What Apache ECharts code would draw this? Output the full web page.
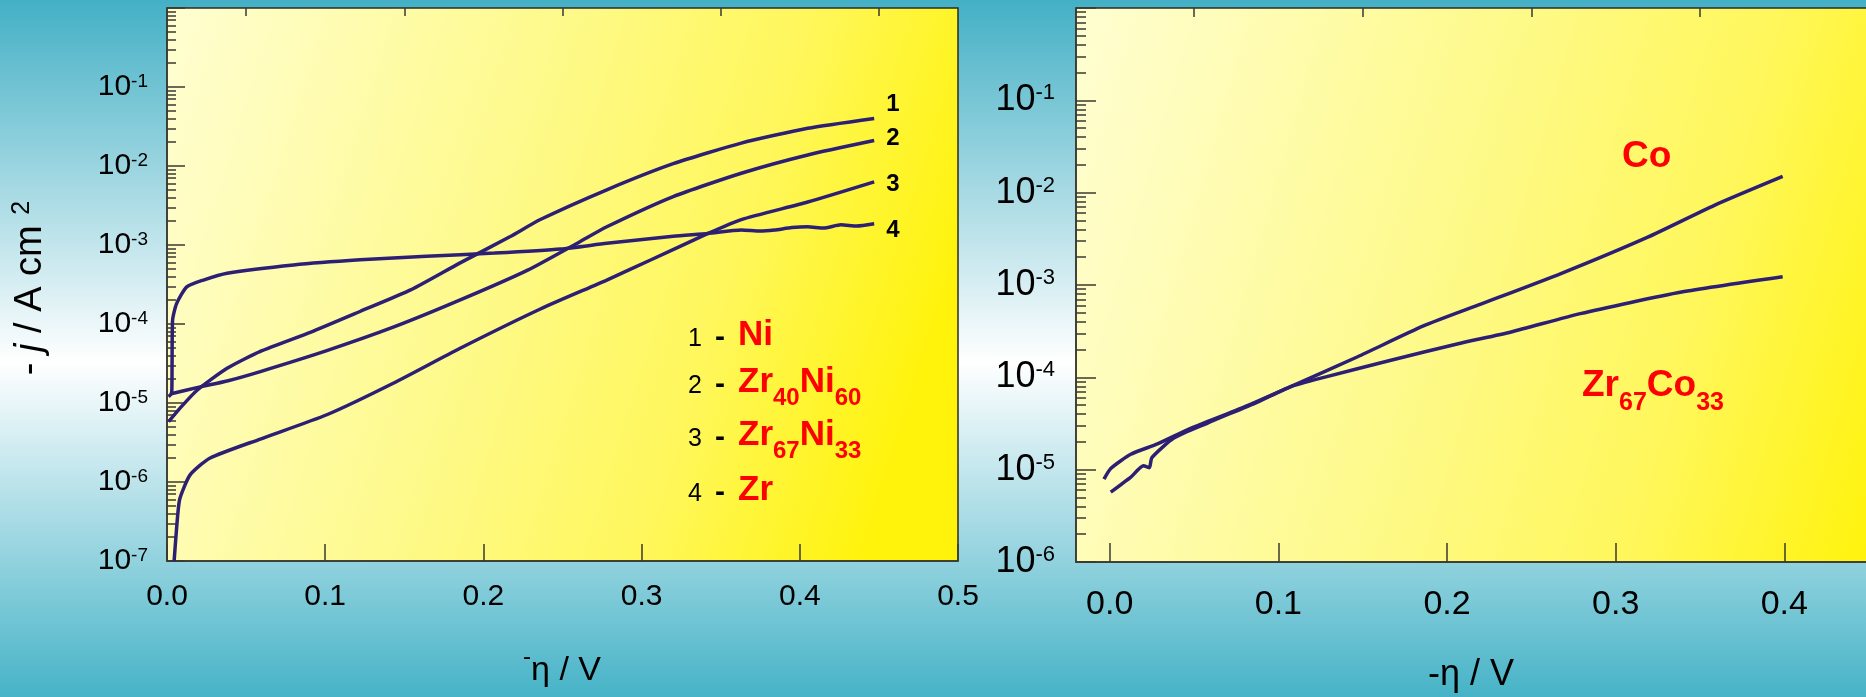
<!DOCTYPE html>
<html>
<head>
<meta charset="utf-8">
<script src="https://cdn.jsdelivr.net/npm/echarts@6/dist/echarts.min.js"></script>
<style>
  html, body { margin: 0; padding: 0; width: 1866px; height: 697px; overflow: hidden; }
  #chart { width: 1866px; height: 697px; }
</style>
</head>
<body>
<div id="chart"></div>
<script>
// Cathodic polarisation curves: -j (A cm^-2) against -eta (V), log scale.

// ---- left panel: Ni / Zr-Ni alloys / Zr  ([-eta, -j]) ----
const ni = [[0.001,5.8e-6],[0.008,8.5e-6],[0.019,1.45e-5],[0.038,2.75e-5],[0.059,4.5e-5],[0.091,7.9e-5],[0.122,1.44e-4],[0.154,2.7e-4],[0.185,5.9e-4],[0.217,1.28e-3],[0.236,2.1e-3],[0.278,5.0e-3],[0.320,1.07e-2],[0.363,1.95e-2],[0.405,3.0e-2],[0.447,4.0e-2]];
const zr40ni60 = [[0.002,1.3e-5],[0.021,1.6e-5],[0.038,1.9e-5],[0.059,2.5e-5],[0.101,4.6e-5],[0.143,9.1e-5],[0.185,2.0e-4],[0.228,4.8e-4],[0.261,1.1e-3],[0.278,1.7e-3],[0.320,4.1e-3],[0.363,8.1e-3],[0.405,1.38e-2],[0.447,2.1e-2]];
const zr67ni33 = [[0.0045,1e-7],[0.006,2.5e-7],[0.008,6e-7],[0.0146,1.23e-6],[0.027,2.0e-6],[0.059,3.5e-6],[0.101,7.1e-6],[0.143,1.78e-5],[0.185,4.9e-5],[0.236,1.55e-4],[0.278,3.6e-4],[0.306,6.5e-4],[0.342,1.4e-3],[0.363,2.1e-3],[0.405,3.5e-3],[0.447,6.3e-3]];
const zr = [[0.001,1.2e-5],[0.003,1.35e-5],[0.0032,3e-5],[0.0035,1.1e-4],[0.006,1.8e-4],[0.0125,2.95e-4],[0.023,3.6e-4],[0.038,4.4e-4],[0.080,5.6e-4],[0.122,6.5e-4],[0.164,7.2e-4],[0.207,7.9e-4],[0.249,8.9e-4],[0.278,1.05e-3],[0.320,1.29e-3],[0.342,1.4e-3],[0.363,1.55e-3],[0.375,1.5e-3],[0.384,1.55e-3],[0.395,1.66e-3],[0.405,1.7e-3],[0.415,1.64e-3],[0.426,1.8e-3],[0.436,1.74e-3],[0.447,1.86e-3]];

// ---- right panel: Co / Zr67Co33 ----
const co = [[-0.0034,7.9e-6],[0.0006,1.03e-5],[0.0125,1.47e-5],[0.0283,1.9e-5],[0.048,2.8e-5],[0.0777,4.6e-5],[0.107,7.9e-5],[0.147,1.67e-4],[0.186,3.6e-4],[0.220,6.2e-4],[0.2675,1.33e-3],[0.319,3.3e-3],[0.3585,7.3e-3],[0.399,1.5e-2]];
const zr67co33 = [[0.0006,5.7e-6],[0.0125,8.3e-6],[0.020,1.1e-5],[0.0235,1.05e-5],[0.025,1.35e-5],[0.038,2.2e-5],[0.058,3.2e-5],[0.0876,5.4e-5],[0.107,7.9e-5],[0.127,1.0e-4],[0.1667,1.53e-4],[0.206,2.3e-4],[0.238,3.1e-4],[0.279,4.9e-4],[0.339,8.4e-4],[0.399,1.23e-3]];

// ---- axis ticks and labels ----
const leftEtaTicks = [0, 0.1, 0.2, 0.3, 0.4, 0.5];
const leftEtaMinor = [0.05, 0.15, 0.25, 0.35, 0.45];
const rightEtaTicks = [0, 0.1, 0.2, 0.3, 0.4, 0.5];
const rightEtaLabels = [0, 0.1, 0.2, 0.3, 0.4];
const rightEtaMinor = [0.05, 0.15, 0.25, 0.35, 0.45];
const leftDecades = [1e-7, 1e-6, 1e-5, 1e-4, 1e-3, 1e-2, 1e-1, 1];
const leftDecadeLabels = [1e-7, 1e-6, 1e-5, 1e-4, 1e-3, 1e-2, 1e-1];
const rightDecades = [1e-6, 1e-5, 1e-4, 1e-3, 1e-2, 1e-1, 1];
const rightDecadeLabels = [1e-6, 1e-5, 1e-4, 1e-3, 1e-2, 1e-1];
const minorMultipliers = [2, 3, 4, 5, 6, 7, 8, 9];

const FONT = '"Liberation Sans", Arial, Helvetica, sans-serif';
const AXIS_COLOR = '#3a3a32';
const CURVE_COLOR = '#2d1f74';
const RED = '#ff0000';

function minorLogTicks(decades) {
  const out = [];
  decades.slice(0, -1).forEach(d => minorMultipliers.forEach(m => out.push(+(d * m).toPrecision(3))));
  return out;
}

function plotFill() {
  return {
    type: 'linear', x: 0, y: 0, x2: 1, y2: 0.45,
    colorStops: [
      { offset: 0, color: '#fffed2' },
      { offset: 0.45, color: '#fefa8c' },
      { offset: 0.75, color: '#fff75a' },
      { offset: 1, color: '#fff30c' }
    ]
  };
}

// text runs with sub/superscripts laid out on a common baseline
const measure = document.createElement('canvas').getContext('2d');
function fontCss(p) {
  return (p.italic ? 'italic ' : 'normal ') + (p.bold ? 'bold ' : 'normal ') + p.size + 'px ' + FONT;
}
function textRun(parts, x0, baseline, align) {
  const widths = parts.map(p => { measure.font = fontCss(p); return measure.measureText(p.t).width; });
  const total = widths.reduce((a, b) => a + b, 0);
  let x = align === 'center' ? x0 - total / 2 : x0;
  return parts.map((p, i) => {
    const el = {
      type: 'text', silent: true,
      x: x, y: baseline + (p.dy || 0) - 0.35 * p.size,
      style: {
        text: p.t, fontSize: p.size, fontFamily: FONT,
        fontWeight: p.bold ? 'bold' : 'normal', fontStyle: p.italic ? 'italic' : 'normal',
        fill: p.color || '#000', align: 'left', verticalAlign: 'middle'
      }
    };
    x += widths[i];
    return el;
  });
}

function decadeLabel(size, supSize) {
  return {
    customValues: null,
    formatter: v => '{m|10}{e|' + Math.round(Math.log10(v)) + '}',
    rich: {
      m: { fontSize: size, lineHeight: size, fontFamily: FONT, color: '#000' },
      e: { fontSize: supSize, lineHeight: supSize, fontFamily: FONT, color: '#000', verticalAlign: 'top' }
    }
  };
}

function etaAxis(grid, min, max, ticks, labels, fontSize, margin, tickLen) {
  return {
    gridIndex: grid, type: 'value', min: min, max: max,
    axisLine: { onZero: false, lineStyle: { color: AXIS_COLOR, width: 1.5 } },
    axisTick: { inside: true, length: tickLen, customValues: ticks, lineStyle: { color: AXIS_COLOR, width: 1.5 } },
    axisLabel: { customValues: labels, formatter: v => v.toFixed(1), fontSize: fontSize, fontFamily: FONT, color: '#000', margin: margin },
    splitLine: { show: false }
  };
}
function minorEtaAxis(grid, min, max, ticks, tickLen) {
  return {
    gridIndex: grid, type: 'value', min: min, max: max,
    axisLine: { show: false, onZero: false },
    axisTick: { inside: true, length: tickLen, customValues: ticks, lineStyle: { color: AXIS_COLOR, width: 1.5 } },
    axisLabel: { show: false }, splitLine: { show: false }
  };
}
function jAxis(grid, min, ticks, labels, size, supSize, margin, tickLen) {
  const lab = decadeLabel(size, supSize);
  lab.customValues = labels;
  lab.margin = margin;
  return {
    gridIndex: grid, type: 'log', logBase: 10, min: min, max: 1,
    axisLine: { show: true, onZero: false, lineStyle: { color: AXIS_COLOR, width: 1.5 } },
    axisTick: { inside: true, length: tickLen, customValues: ticks, lineStyle: { color: AXIS_COLOR, width: 1.5 } },
    axisLabel: lab,
    splitLine: { show: false }
  };
}
function minorJAxis(grid, min, ticks, tickLen) {
  return {
    gridIndex: grid, type: 'log', logBase: 10, min: min, max: 1, position: 'left', offset: 0,
    axisLine: { show: false, onZero: false },
    axisTick: { inside: true, length: tickLen, customValues: ticks, lineStyle: { color: AXIS_COLOR, width: 1.5 } },
    axisLabel: { show: false }, splitLine: { show: false }
  };
}

function curve(data, xi, yi, tag, offset) {
  const s = {
    type: 'line', xAxisIndex: xi, yAxisIndex: yi, data: data,
    showSymbol: false, symbol: 'none', smooth: 0.2,
    lineStyle: { color: CURVE_COLOR, width: 3.5 },
    emphasis: { disabled: true }
  };
  if (tag) {
    s.endLabel = {
      show: true, formatter: tag, distance: 0, offset: offset,
      fontSize: 24, fontWeight: 'bold', fontFamily: FONT, color: '#000'
    };
  }
  return s;
}

// ---- annotations ----
const graphics = [];
// y axis title: - j / A cm 2 (rotated)
(function () {
  const parts = [
    { t: '- ', size: 38 }, { t: 'j', size: 38, italic: true }, { t: ' / A cm ', size: 38 },
    { t: '2', size: 25, dy: -13 }
  ];
  graphics.push({ type: 'group', x: 31, y: 288, rotation: Math.PI / 2, silent: true, children: textRun(parts, 0, 13, 'center') });
})();
// x axis titles
graphics.push(...textRun([{ t: '-', size: 24, dy: -17 }, { t: 'η / V', size: 34 }], 562, 683, 'center'));
graphics.push(...textRun([{ t: '-η / V', size: 36 }], 1471, 688, 'center'));

// key of the left panel
const keyRows = [
  { n: '1', base: 348, f: [['Ni', 0]] },
  { n: '2', base: 395, f: [['Zr', 0], ['40', 1], ['Ni', 0], ['60', 1]] },
  { n: '3', base: 448, f: [['Zr', 0], ['67', 1], ['Ni', 0], ['33', 1]] },
  { n: '4', base: 503, f: [['Zr', 0]] }
];
keyRows.forEach(r => {
  graphics.push(...textRun([{ t: r.n, size: 25 }], 688, r.base, 'left'));
  graphics.push(...textRun([{ t: '-', size: 30, bold: true }], 715, r.base, 'left'));
  graphics.push(...textRun(r.f.map(([t, sub]) => sub
    ? { t: t, size: 24, bold: true, color: RED, dy: 12 }
    : { t: t, size: 35, bold: true, color: RED }), 738, r.base, 'left'));
});
// right panel labels
graphics.push(...textRun([{ t: 'Co', size: 37, bold: true, color: RED }], 1622, 170, 'left'));
graphics.push(...textRun([
  { t: 'Zr', size: 37, bold: true, color: RED }, { t: '67', size: 25, bold: true, color: RED, dy: 13 },
  { t: 'Co', size: 37, bold: true, color: RED }, { t: '33', size: 25, bold: true, color: RED, dy: 13 }
], 1582, 399, 'left'));

const option = {
  animation: false,
  backgroundColor: {
    type: 'linear', x: 0, y: 0, x2: 0, y2: 1,
    colorStops: [
      { offset: 0, color: '#44b0c5' },
      { offset: 0.52, color: '#ffffff' },
      { offset: 1, color: '#46b3c7' }
    ]
  },
  grid: [
    { left: 167, top: 8, width: 791, height: 553, show: true, borderColor: '#2b2b26', borderWidth: 1.5, backgroundColor: plotFill(), outerBoundsMode: 'none', containLabel: false },
    { left: 1076, top: 8, width: 877, height: 554, show: true, borderColor: '#2b2b26', borderWidth: 1.5, backgroundColor: plotFill(), outerBoundsMode: 'none', containLabel: false }
  ],
  xAxis: [
    etaAxis(0, 0, 0.5, leftEtaTicks, leftEtaTicks, 30, 21, 17),
    minorEtaAxis(0, 0, 0.5, leftEtaMinor, 8),
    etaAxis(1, -0.02, 0.5, rightEtaTicks, rightEtaLabels, 34, 26, 19),
    minorEtaAxis(1, -0.02, 0.5, rightEtaMinor, 9)
  ],
  yAxis: [
    jAxis(0, 1e-7, leftDecades, leftDecadeLabels, 30, 19, 19, 18),
    minorJAxis(0, 1e-7, minorLogTicks(leftDecades), 9),
    jAxis(1, 1e-6, rightDecades, rightDecadeLabels, 36, 22, 21, 20),
    minorJAxis(1, 1e-6, minorLogTicks(rightDecades), 10)
  ],
  series: [
    curve(ni, 0, 0, '1', [12, -14]),
    curve(zr40ni60, 0, 0, '2', [12, -2]),
    curve(zr67ni33, 0, 0, '3', [12, 3]),
    curve(zr, 0, 0, '4', [12, 7]),
    curve(co, 2, 2),
    curve(zr67co33, 2, 2)
  ],
  graphic: graphics
};

const chart = echarts.init(document.getElementById('chart'), null, { renderer: 'canvas' });
chart.setOption(option);
</script>
</body>
</html>
